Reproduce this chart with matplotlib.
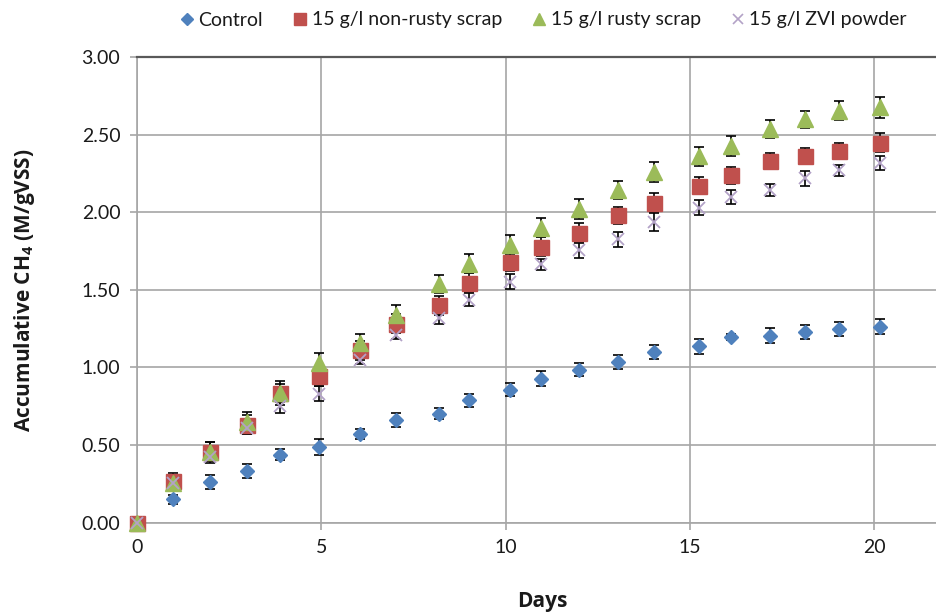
import matplotlib
matplotlib.use("Agg")
import matplotlib.pyplot as plt

plt.rcParams['font.family'] = ['Lato', 'DejaVu Sans']
plt.rcParams['mathtext.fontset'] = 'custom'
plt.rcParams['mathtext.rm'] = 'Open Sans'
plt.rcParams['mathtext.bf'] = 'Open Sans:bold'
plt.rcParams['mathtext.it'] = 'Open Sans:italic'

# ---- data ----
days = [0, 0.99, 1.98, 2.98, 3.89, 4.95, 6.05, 7.02, 8.2, 9.01, 10.12,
        10.96, 11.99, 13.06, 14.04, 15.25, 16.12, 17.18, 18.13, 19.05, 20.16]

control = [0.0, 0.15, 0.26, 0.335, 0.436, 0.488, 0.57, 0.662, 0.70, 0.787, 0.856,
           0.927, 0.985, 1.037, 1.097, 1.136, 1.198, 1.205, 1.229, 1.248, 1.263]
control_err = [0.0, 0.03, 0.045, 0.045, 0.035, 0.05, 0.03, 0.045, 0.035, 0.043, 0.04,
               0.05, 0.04, 0.045, 0.046, 0.047, 0.02, 0.05, 0.046, 0.045, 0.046]

nonrusty = [0.0, 0.268, 0.457, 0.63, 0.835, 0.942, 1.11, 1.282, 1.40, 1.545, 1.678,
            1.778, 1.868, 1.98, 2.062, 2.17, 2.238, 2.331, 2.363, 2.395, 2.447]
nonrusty_err = [0.0, 0.05, 0.06, 0.06, 0.075, 0.06, 0.06, 0.06, 0.06, 0.06, 0.06,
                0.06, 0.06, 0.055, 0.06, 0.055, 0.055, 0.05, 0.05, 0.05, 0.06]

rusty = [0.0, 0.257, 0.457, 0.65, 0.835, 1.028, 1.157, 1.34, 1.538, 1.668, 1.79,
         1.90, 2.018, 2.143, 2.26, 2.36, 2.424, 2.535, 2.60, 2.654, 2.675]
rusty_err = [0.0, 0.05, 0.06, 0.06, 0.06, 0.065, 0.06, 0.06, 0.06, 0.06, 0.065,
             0.06, 0.065, 0.06, 0.065, 0.06, 0.065, 0.06, 0.055, 0.06, 0.065]

zvi = [0.0, 0.257, 0.425, 0.608, 0.753, 0.83, 1.05, 1.21, 1.319, 1.437, 1.552,
       1.663, 1.754, 1.825, 1.937, 2.03, 2.098, 2.143, 2.217, 2.27, 2.316]
zvi_err = [0.0, 0.03, 0.04, 0.04, 0.05, 0.05, 0.03, 0.03, 0.04, 0.04, 0.05,
           0.038, 0.05, 0.05, 0.057, 0.048, 0.043, 0.036, 0.05, 0.036, 0.043]

labels = ['Control', '15 g/l non-rusty scrap', '15 g/l rusty scrap', '15 g/l ZVI powder']
yticks = [0.0, 0.5, 1.0, 1.5, 2.0, 2.5, 3.0]
xticks = [0, 5, 10, 15, 20]

# ---- figure ----
fig = plt.figure(figsize=(9.36, 6.14), dpi=100)
W, H = 936, 614
left_px, right_px, top_px, bottom_px = 137, 947.7, 57, 522.5
ax = fig.add_axes([left_px / W, 1 - bottom_px / H, (right_px - left_px) / W, (bottom_px - top_px) / H])

grid_c = '#A6A6A6'
txt_c = '#1a1a1a'
ax.set_xlim(0, 22)
ax.set_ylim(0, 3.0)
ax.set_xticks(xticks)
ax.set_yticks(yticks)
ax.set_yticklabels([f'{v:.2f}' for v in yticks])
ax.grid(True, color=grid_c, linewidth=1.2)
ax.set_axisbelow(True)
for s in ['left', 'bottom']:
    ax.spines[s].set_color(grid_c)
    ax.spines[s].set_linewidth(1.2)
ax.spines['top'].set_color('#595959')
ax.spines['top'].set_linewidth(1.6)
ax.spines['right'].set_visible(False)
ax.tick_params(axis='both', colors=grid_c, labelcolor=txt_c, labelsize=14,
               length=5, width=1.2)
ax.tick_params(axis='y', pad=7)
ax.tick_params(axis='x', pad=7)

series = [
    (control, control_err, 'D', 7.6, '#4F81BD', 3),
    (nonrusty, nonrusty_err, 's', 10.8, '#C0504D', 4),
    (rusty, rusty_err, '^', 12, '#9BBB59', 5),
    (zvi, zvi_err, 'x', 8.5, '#B3A2C7', 6),
]
for (vals, errs, mk, ms, col, z), lab in zip(series, labels):
    ax.errorbar(days, vals, yerr=errs, fmt='none', ecolor='black', elinewidth=1.2,
                capsize=3.5, capthick=1.2, zorder=2.5)
    if mk == 'x':
        ax.plot(days, vals, linestyle='none', marker=mk, markersize=ms,
                color=col, markeredgewidth=1.3, zorder=z, clip_on=False)
    else:
        ax.plot(days, vals, linestyle='none', marker=mk, markersize=ms,
                color=col, markeredgecolor=col, zorder=z, clip_on=False)

lab_font = dict(family=['Open Sans', 'DejaVu Sans'], fontsize=15, fontweight='bold', color=txt_c)
ax.set_xlabel('Days', labelpad=25, **lab_font)
ax.set_ylabel(r'Accumulative CH$_{\mathbf{4}}$ (M/gVSS)', labelpad=32, **lab_font)

leg_handles = []
for (vals, errs, mk, ms, col, z), lab in zip(series, labels):
    if mk == 'x':
        lh, = ax.plot([], [], linestyle='none', marker=mk, markersize=7, color=col,
                      markeredgewidth=1.2)
    else:
        lh, = ax.plot([], [], linestyle='none', marker=mk,
                      markersize={'D': 6, 's': 8.5, '^': 9}[mk], color=col)
    leg_handles.append(lh)

fig.legend(handles=leg_handles, labels=labels, loc='center', ncol=4,
           bbox_to_anchor=(543 / W, 1 - 20 / H), frameon=False, fontsize=14,
           handlelength=0.8, handletextpad=0.2, columnspacing=1.5, borderpad=0,
           labelcolor=txt_c)

fig.savefig('out.png', dpi=100)
